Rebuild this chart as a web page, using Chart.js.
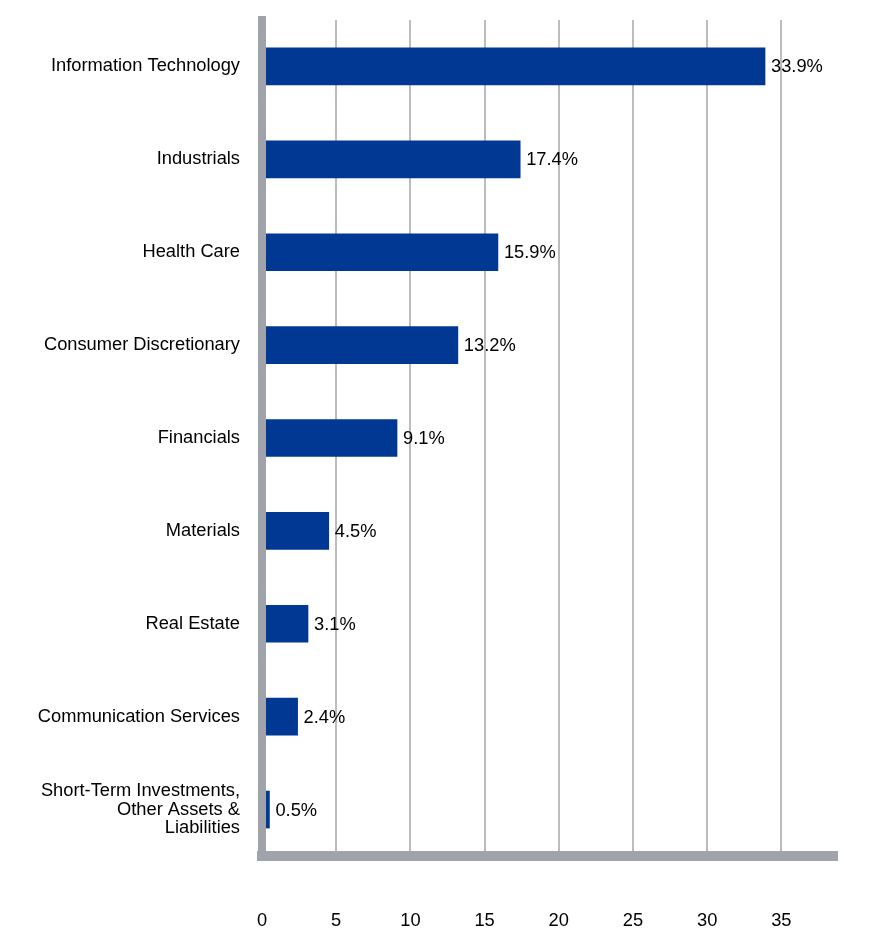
<!DOCTYPE html>
<html>
<head>
<meta charset="utf-8">
<script src="https://cdn.jsdelivr.net/npm/chart.js@4/dist/chart.umd.min.js"></script>
<style>
  html, body { margin: 0; padding: 0; background: #fff; }
  #wrap { width: 888px; height: 948px; position: relative; }
</style>
</head>
<body>
<div id="wrap"><canvas id="chart"></canvas></div>
<script>
// sector weights, % of net assets
const categories = [
  'Information Technology',
  'Industrials',
  'Health Care',
  'Consumer Discretionary',
  'Financials',
  'Materials',
  'Real Estate',
  'Communication Services',
  ['Short-Term Investments,', 'Other Assets &', 'Liabilities']
];
const weights = [33.9, 17.4, 15.9, 13.2, 9.1, 4.5, 3.1, 2.4, 0.5];
const tickValues = [0, 5, 10, 15, 20, 25, 30, 35];

const BAR = '#003893';
const AXIS_GRAY = '#a0a3ab';
const GRID_GRAY = '#babcbf';
const FONT = { family: '"Liberation Sans", Arial, sans-serif', size: 18.3, lineHeight: 1.02 };

// value labels to the right of each bar
const valueLabels = {
  id: 'valueLabels',
  afterDatasetsDraw(chart) {
    const ctx = chart.ctx;
    const meta = chart.getDatasetMeta(0);
    ctx.save();
    ctx.font = `${FONT.size}px ${FONT.family}`;
    ctx.fillStyle = '#000';
    ctx.textAlign = 'left';
    ctx.textBaseline = 'middle';
    meta.data.forEach((bar, i) => {
      ctx.fillText(weights[i].toFixed(1) + '%', bar.x + 6, bar.y + 1);
    });
    ctx.restore();
  }
};

new Chart(document.getElementById('chart'), {
  type: 'bar',
  data: {
    labels: categories,
    datasets: [{
      data: weights,
      backgroundColor: BAR,
      borderWidth: 0,
      barThickness: 37
    }]
  },
  options: {
    indexAxis: 'y',
    responsive: true,
    maintainAspectRatio: false,
    animation: false,
    layout: { padding: { top: 20, right: 51, bottom: 0, left: 0 } },
    plugins: {
      legend: { display: false },
      tooltip: { enabled: false }
    },
    scales: {
      x: {
        min: 0,
        max: 38.75,
        afterBuildTicks: (scale) => {
          scale.ticks = tickValues.map(v => ({ value: v }));
        },
        afterFit: (scale) => {
          scale.height = 92;
          scale.paddingLeft = 0;
          scale.paddingRight = 0;
        },
        grid: { color: GRID_GRAY, lineWidth: 2, drawTicks: false },
        border: { display: true, color: AXIS_GRAY, width: 10 },
        ticks: { color: '#000', font: FONT, padding: 56, maxRotation: 0 }
      },
      y: {
        afterFit: (scale) => {
          scale.width = 262;
          scale.paddingTop = 0;
          scale.paddingBottom = 0;
        },
        grid: { drawOnChartArea: false, drawTicks: false },
        border: { display: true, color: AXIS_GRAY, width: 8, z: 1 },
        ticks: { color: '#000', font: FONT, padding: 22 }
      }
    }
  },
  plugins: [valueLabels]
});
</script>
</body>
</html>
